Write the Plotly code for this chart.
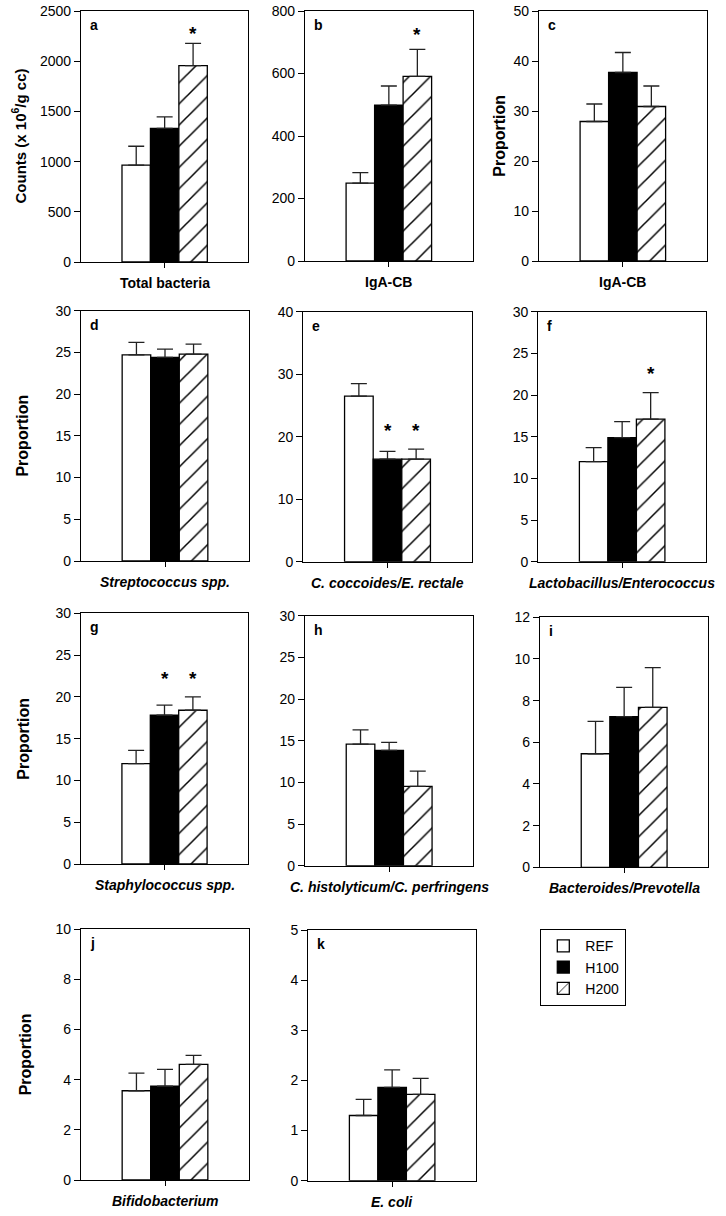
import plotly.graph_objects as go

# ---------------- data ----------------
categories = ["Total bacteria", "IgA-CB", "IgA-CB", "Streptococcus spp.",
              "C. coccoides/E. rectale", "Lactobacillus/Enterococcus",
              "Staphylococcus spp.", "C. histolyticum/C. perfringens",
              "Bacteroides/Prevotella", "Bifidobacterium", "E. coli"]
italic_labels = [False, False, False, True, True, True, True, True, True, True, True]
panel_letters = ["a", "b", "c", "d", "e", "f", "g", "h", "i", "j", "k"]
groups = ["REF", "H100", "H200"]

ref_mean = [964, 249, 27.9, 24.7, 26.5, 12.0, 12.0, 14.6, 5.45, 3.56, 1.30]
ref_err = [189, 34, 3.5, 1.5, 2.0, 1.7, 1.6, 1.7, 1.55, 0.70, 0.32]
h100_mean = [1330, 499, 37.7, 24.4, 16.4, 14.9, 17.8, 13.85, 7.23, 3.74, 1.86]
h100_err = [116, 61, 4.0, 1.0, 1.25, 1.9, 1.2, 0.95, 1.41, 0.67, 0.35]
h200_mean = [1955, 591, 30.9, 24.8, 16.4, 17.1, 18.4, 9.52, 7.68, 4.61, 1.72]
h200_err = [222, 86, 4.1, 1.2, 1.6, 3.2, 1.6, 1.84, 1.9, 0.36, 0.32]

y_max = [2500, 800, 50, 30, 40, 30, 30, 30, 12, 10, 5]
y_dtick = [500, 200, 10, 5, 10, 5, 5, 5, 2, 2, 1]
y_titles = ["Counts (x 10<sup>6</sup>/g cc)", None, "Proportion", "Proportion", None, None,
            "Proportion", None, None, "Proportion", None]

# significance stars: (panel index, group index, y position)
stars = [(0, 2, 2294), (1, 2, 730), (4, 1, 21.3), (4, 2, 21.3), (5, 2, 22.8),
         (6, 1, 22.4), (6, 2, 22.4)]

# ---------------- layout geometry (pixels) ----------------
W, H = 726, 1216
boxes = [  # left, right, top, bottom
    (81, 248.3, 11, 262), (305, 472.7, 11, 261), (539, 706.7, 11, 261),
    (81, 249, 310.7, 561), (303.3, 471.7, 311.7, 561.7), (538.3, 706, 311.7, 561.7),
    (81, 248, 613.3, 864), (305, 473.3, 615.7, 865.7), (540, 708.3, 617.3, 867.3),
    (81, 249, 929.3, 1180), (308.3, 476, 930, 1180.7),
]
ytitle_x = [19, None, 498.7, 22.7, None, None, 24, None, None, 25.7, None]
ytitle_size = [15, None, 16, 16, None, None, 16, None, None, 16, None]

FONT = "Liberation Sans, Arial, sans-serif"
bargap = 0.49

means = [ref_mean, h100_mean, h200_mean]
errs = [ref_err, h100_err, h200_err]
markers = [
    dict(color="white", line=dict(color="black", width=1.3)),
    dict(color="black", line=dict(color="black", width=1.3)),
    dict(color="white", line=dict(color="black", width=1.3),
         pattern=dict(shape="/", fgcolor="black", bgcolor="white", size=15, solidity=0.1)),
]

fig = go.Figure()
layout = dict(
    template="none",
    width=W, height=H, margin=dict(l=0, r=0, t=0, b=0, autoexpand=False),
    paper_bgcolor="white", plot_bgcolor="white",
    barmode="group", bargap=bargap, bargroupgap=0,
    font=dict(family=FONT, color="black", size=13),
    showlegend=True,
    legend=dict(x=540 / W, y=1 - 929 / H, xanchor="left", yanchor="top",
                bordercolor="black", borderwidth=1.3, bgcolor="white",
                font=dict(size=14, family=FONT), itemwidth=34,
                tracegroupgap=0, traceorder="normal"),
)
annotations = []

for i in range(len(categories)):
    xa = "x" if i == 0 else f"x{i + 1}"
    ya = "y" if i == 0 else f"y{i + 1}"
    for g in range(3):
        fig.add_trace(go.Bar(
            x=[categories[i]], y=[means[g][i]], name=groups[g],
            xaxis=xa, yaxis=ya, marker=markers[g],
            error_y=dict(type="data", symmetric=False, array=[errs[g][i]], arrayminus=[0],
                         color="#222222", thickness=1.3, width=8),
            showlegend=(i == 0), legendgroup=groups[g],
        ))
    l, r, t, b = boxes[i]
    axis_common = dict(showline=True, mirror=True, linecolor="black", linewidth=1.3,
                       showgrid=False, zeroline=False, ticks="outside", tickcolor="black",
                       tickwidth=1.2, automargin=False)
    layout["xaxis" if i == 0 else f"xaxis{i + 1}"] = dict(
        domain=[l / W, r / W], anchor=ya, type="category", range=[-0.5, 0.5],
        showticklabels=False, ticklen=5, fixedrange=True, **axis_common)
    layout["yaxis" if i == 0 else f"yaxis{i + 1}"] = dict(
        domain=[1 - b / H, 1 - t / H], anchor=xa, range=[0, y_max[i]],
        tick0=0, dtick=y_dtick[i], ticklen=6, tickfont=dict(size=14, family=FONT),
        fixedrange=True, **axis_common)

    # x label
    lab = categories[i]
    lab = f"<b><i>{lab}</i></b>" if italic_labels[i] else f"<b>{lab}</b>"
    annotations.append(dict(text=lab, xref=f"{xa} domain", yref=f"{ya} domain",
                            x=0.5, y=0, yshift=-21, xanchor="center", yanchor="middle",
                            showarrow=False, font=dict(size=14, family=FONT)))
    # y title
    if y_titles[i]:
        annotations.append(dict(text=f"<b>{y_titles[i]}</b>", xref="paper",
                                yref=f"{ya} domain", x=ytitle_x[i] / W, y=0.5,
                                textangle=-90, xanchor="center", yanchor="middle",
                                showarrow=False,
                                font=dict(size=ytitle_size[i], family=FONT)))
    # panel letter
    annotations.append(dict(text=f"<b>{panel_letters[i]}</b>", xref=f"{xa} domain",
                            yref=f"{ya} domain", x=0, y=1, xshift=7, yshift=-14,
                            xanchor="left", yanchor="middle", showarrow=False,
                            font=dict(size=14, family=FONT)))

wbar = (1 - bargap) / 3
for (pi, gi, yv) in stars:
    xa = "x" if pi == 0 else f"x{pi + 1}"
    ya = "y" if pi == 0 else f"y{pi + 1}"
    annotations.append(dict(text="<b>*</b>", xref=xa, yref=ya, x=(gi - 1) * wbar, y=yv,
                            xanchor="center", yanchor="middle", yshift=-2,
                            showarrow=False, font=dict(size=19, family=FONT)))

layout["annotations"] = annotations
fig.update_layout(**layout)
fig.write_html("out.html", config={"displayModeBar": False},
               post_script="document.body.style.margin='0px';document.body.style.overflow='hidden';")
